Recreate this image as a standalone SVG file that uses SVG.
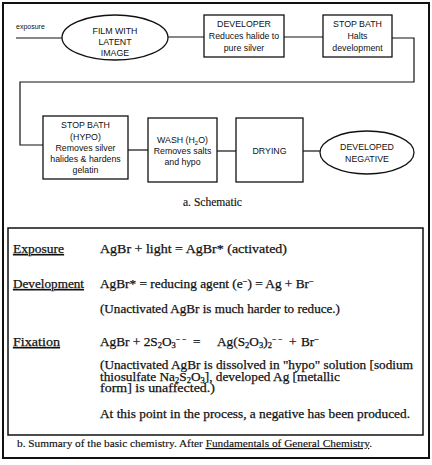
<svg xmlns="http://www.w3.org/2000/svg" width="432" height="465" viewBox="0 0 432 465">
<style>
.box{fill:#fff;stroke:#111;stroke-width:1.3}
.ln{fill:none;stroke:#111;stroke-width:1.2}
.nt{font-family:"Liberation Sans",Arial,sans-serif;font-size:8.8px;fill:#111;text-anchor:middle}
.ch{font-family:"Liberation Serif","Times New Roman",serif;font-size:13.3px;fill:#111;stroke:#111;stroke-width:0.25}
.cap{font-family:"Liberation Serif","Times New Roman",serif;font-size:10.5px;fill:#111;stroke:#111;stroke-width:0.15}
.sb{font-size:8.5px}
.sp{font-size:7.5px}
</style>
<rect width="432" height="465" fill="#fff"/>
<rect x="3" y="3" width="426" height="455" fill="none" stroke="#111" stroke-width="2"/>
<g id="connectors">
<path class="ln" d="M16,38 H62"/>
<path class="ln" d="M168,37 H204"/>
<path class="ln" d="M284,37 H323"/>
<path class="ln" d="M392,38 H414 V82 H20 V145 H43"/>
<path class="ln" d="M128,150 H148"/>
<path class="ln" d="M217,151 H236"/>
<path class="ln" d="M303,151 H320"/>
</g>
<text class="nt" x="16" y="29" style="text-anchor:start;font-size:7px">exposure</text>
<g id="film">
<ellipse class="box" cx="115" cy="37.5" rx="53" ry="22.5"/>
<text class="nt" x="115" y="34">FILM WITH</text>
<text class="nt" x="115" y="45">LATENT</text>
<text class="nt" x="115" y="56">IMAGE</text>
</g>
<g id="developer">
<rect class="box" x="204" y="15" width="80" height="42"/>
<text class="nt" x="244" y="27">DEVELOPER</text>
<text class="nt" x="244" y="39">Reduces halide to</text>
<text class="nt" x="244" y="51">pure silver</text>
</g>
<g id="stopbath">
<rect class="box" x="323" y="15" width="69" height="42"/>
<text class="nt" x="357.5" y="27">STOP BATH</text>
<text class="nt" x="357.5" y="39">Halts</text>
<text class="nt" x="357.5" y="51">development</text>
</g>
<g id="hypo">
<rect class="box" x="43" y="116" width="85" height="63"/>
<text class="nt" x="85.5" y="128">STOP BATH</text>
<text class="nt" x="85.5" y="140">(HYPO)</text>
<text class="nt" x="85.5" y="151">Removes silver</text>
<text class="nt" x="85.5" y="162">halides &amp; hardens</text>
<text class="nt" x="85.5" y="173">gelatin</text>
</g>
<g id="wash">
<rect class="box" x="148" y="118" width="69" height="64"/>
<text class="nt" x="182.5" y="143">WASH (H<tspan dy="2" font-size="6">2</tspan><tspan dy="-2">O)</tspan></text>
<text class="nt" x="182.5" y="154">Removes salts</text>
<text class="nt" x="182.5" y="165">and hypo</text>
</g>
<g id="drying">
<rect class="box" x="236" y="118" width="67" height="64"/>
<text class="nt" x="269.5" y="154">DRYING</text>
</g>
<g id="negative">
<ellipse class="box" cx="367" cy="152.5" rx="47" ry="21.5"/>
<text class="nt" x="367" y="150">DEVELOPED</text>
<text class="nt" x="367" y="162">NEGATIVE</text>
</g>
<text class="cap" x="183" y="206" style="font-size:11.5px" textLength="59" lengthAdjust="spacingAndGlyphs">a. Schematic</text>
<g id="chemistry">
<rect x="8" y="228" width="415" height="207" fill="none" stroke="#111" stroke-width="1.5"/>
<text class="ch" x="13" y="253" text-decoration="underline" textLength="51" lengthAdjust="spacingAndGlyphs">Exposure</text>
<text class="ch" x="100" y="253" textLength="187" lengthAdjust="spacingAndGlyphs">AgBr + light = AgBr* (activated)</text>
<text class="ch" x="13" y="288" text-decoration="underline" textLength="71" lengthAdjust="spacingAndGlyphs">Development</text>
<text class="ch" x="100" y="288">AgBr* = reducing agent (e<tspan dy="-4" class="sb">−</tspan><tspan dy="4">) = Ag + Br</tspan><tspan dy="-4" class="sb">−</tspan></text>
<text class="ch" x="100" y="313" textLength="240" lengthAdjust="spacingAndGlyphs">(Unactivated AgBr is much harder to reduce.)</text>
<text class="ch" x="13" y="346" text-decoration="underline" textLength="47" lengthAdjust="spacingAndGlyphs">Fixation</text>
<text class="ch" x="100" y="346">AgBr + 2S<tspan dy="2" class="sb">2</tspan><tspan dy="-2">O</tspan><tspan dy="2" class="sb">3</tspan><tspan dy="-6" class="sp">− −</tspan><tspan x="193" dy="4">=</tspan><tspan x="217">Ag(S</tspan><tspan dy="2" class="sb">2</tspan><tspan dy="-2">O</tspan><tspan dy="2" class="sb">3</tspan><tspan dy="-2">)</tspan><tspan dy="2" class="sb">2</tspan><tspan dy="-6" class="sp">− −</tspan><tspan x="289" dy="4">+</tspan><tspan x="301">Br</tspan><tspan dy="-4" class="sb">−</tspan></text>
<text class="ch" x="100" y="369" textLength="313" lengthAdjust="spacingAndGlyphs">(Unactivated AgBr is dissolved in "hypo" solution [sodium</text>
<text class="ch" x="100" y="381">thiosulfate Na<tspan dy="2" class="sb">2</tspan><tspan dy="-2">S</tspan><tspan dy="2" class="sb">2</tspan><tspan dy="-2">O</tspan><tspan dy="2" class="sb">3</tspan><tspan dy="-2">], developed Ag [metallic</tspan></text>
<text class="ch" x="100" y="392" textLength="115" lengthAdjust="spacingAndGlyphs">form] is unaffected.)</text>
<text class="ch" x="100" y="418" textLength="310" lengthAdjust="spacingAndGlyphs">At this point in the process, a negative has been produced.</text>
</g>
<text class="cap" x="17" y="447" textLength="355" lengthAdjust="spacingAndGlyphs">b.  Summary of the basic chemistry.  After <tspan text-decoration="underline">Fundamentals of General Chemistry</tspan>.</text>
</svg>
